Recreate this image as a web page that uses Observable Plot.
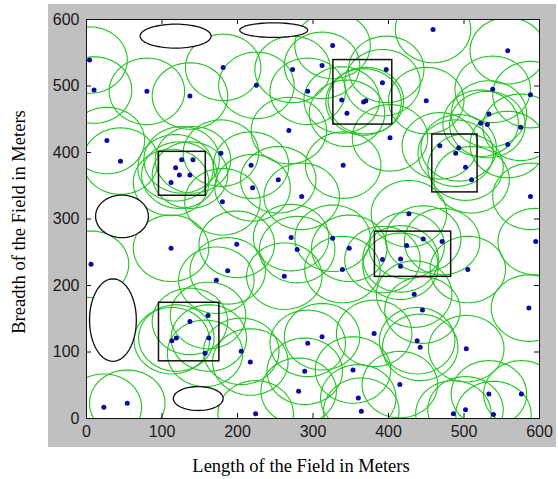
<!DOCTYPE html>
<html><head><meta charset="utf-8">
<script src="https://cdn.jsdelivr.net/npm/d3@7"></script>
<script src="https://cdn.jsdelivr.net/npm/@observablehq/plot@0.6"></script>
<style>body{margin:0;background:#fff;} #chart{width:558px;height:479px;}</style>
</head><body><div id="chart"></div>
<script>
// Sensor node positions (meters)
const nodeX = [4, 10, 80, 137, 181, 27, 45, 178, 126, 141, 118, 123, 137, 112, 180,
  326, 273, 312, 225, 293, 392, 338, 367, 370, 345, 268, 340, 218, 254, 220, 285, 397,
  459, 558, 450, 402, 538, 588, 533, 522, 531, 575, 558, 468, 493, 489, 502, 510, 588, 427,
  112, 6, 187, 172, 161, 137, 119, 113, 162, 157, 23, 54, 205, 217, 224, 199,
  271, 279, 326, 348, 339, 262, 392, 312, 293, 381, 289, 353, 281, 360, 364,
  446, 471, 424, 416, 416, 505, 595, 434, 445, 586, 438, 442, 503, 415, 533, 576, 502, 486, 539];
const nodeY = [539, 494, 492, 485, 528, 418, 387, 399, 389, 389, 377, 366, 366, 355, 326,
  561, 525, 531, 501, 492, 505, 479, 476, 478, 459, 433, 381, 381, 359, 347, 334, 525,
  585, 553, 478, 422, 495, 487, 458, 444, 442, 438, 412, 410, 407, 399, 378, 359, 334, 308,
  256, 232, 222, 208, 155, 146, 121, 117, 121, 98, 17, 23, 101, 85, 7, 262,
  272, 254, 271, 256, 224, 214, 239, 123, 113, 128, 71, 73, 41, 31, 11,
  270, 266, 260, 240, 229, 224, 266, 187, 163, 166, 117, 107, 105, 51, 37, 37, 13, 7, 6];
const sensingRadius = 50;

// Cluster regions (rectangles)
const clusterX1 = [96, 327, 458, 382, 96];
const clusterX2 = [158, 405, 518, 483, 176];
const clusterY1 = [335, 442, 340, 213, 86];
const clusterY2 = [401, 539, 427, 281, 174];

// Obstacles (ellipses)
const obstacleCX = [118, 248, 47, 35, 148];
const obstacleCY = [575, 584, 304, 148, 30];
const obstacleRX = [47, 45, 35, 31, 33];
const obstacleRY = [18, 11, 32, 62, 18];

const xTicks = [0, 100, 200, 300, 400, 500, 600];
const yTicks = [0, 100, 200, 300, 400, 500, 600];
const xLabel = "Length of the Field in Meters";
const yLabel = "Breadth of the Field in Meters";

const nodes = nodeX.map((x, i) => ({x, y: nodeY[i]}));
const ring = d3.range(0, 73).map(k => 2 * Math.PI * k / 72);
const circlePts = nodes.flatMap((n, i) => ring.map(t => ({id: i, x: n.x + sensingRadius * Math.cos(t), y: n.y + sensingRadius * Math.sin(t)})));
const ellipsePts = obstacleCX.flatMap((cx, i) => ring.map(t => ({id: i, x: cx + obstacleRX[i] * Math.cos(t), y: obstacleCY[i] + obstacleRY[i] * Math.sin(t)})));
const clusters = clusterX1.map((x1, i) => ({x1, x2: clusterX2[i], y1: clusterY1[i], y2: clusterY2[i]}));

const svg = Plot.plot({
  width: 558, height: 479,
  marginLeft: 86, marginRight: 19, marginTop: 19, marginBottom: 61,
  x: {domain: [0, 600]},
  y: {domain: [0, 600]},
  style: {background: "transparent", fontFamily: "'Liberation Sans', Arial, sans-serif", fontSize: "16px", color: "#1a1a1a"},
  marks: [
    Plot.frame({fill: "white", stroke: "none"}),
    Plot.line(circlePts, {x: "x", y: "y", z: "id", stroke: "#1fc41f", strokeWidth: 1.1, clip: true}),
    Plot.line(ellipsePts, {x: "x", y: "y", z: "id", fill: "white", stroke: "#111", strokeWidth: 1.3, clip: true}),
    Plot.rect(clusters, {x1: "x1", x2: "x2", y1: "y1", y2: "y2", fill: "none", stroke: "#111", strokeWidth: 1.5}),
    Plot.dot(nodes, {x: "x", y: "y", r: 2.5, fill: "#0b0b9c", stroke: "none"}),
    Plot.tickX(xTicks, {x: d => d, insetTop: 394, stroke: "#111"}),
    Plot.tickX(xTicks, {x: d => d, insetBottom: 394, stroke: "#111"}),
    Plot.tickY(yTicks, {y: d => d, insetRight: 448, stroke: "#111"}),
    Plot.tickY(yTicks, {y: d => d, insetLeft: 448, stroke: "#111"}),
    Plot.axisX({ticks: xTicks, tickSize: 0, tickPadding: 7, label: null, fontSize: 16}),
    Plot.axisY({ticks: yTicks, tickSize: 0, tickPadding: 7, label: null, fontSize: 16}),
    Plot.frame({stroke: "#111", strokeWidth: 1})
  ]
});

const s = d3.select(svg);
s.insert("rect", ":first-child").attr("x", 48).attr("y", 4).attr("width", 508).attr("height", 443).attr("fill", "#c0c0c0");
s.append("text").attr("x", 301).attr("y", 472).attr("text-anchor", "middle")
  .attr("font-family", "'Liberation Serif', 'Times New Roman', serif").attr("font-size", 18.5).attr("fill", "#000").text(xLabel);
s.append("text").attr("transform", "translate(25,222) rotate(-90)").attr("text-anchor", "middle")
  .attr("font-family", "'Liberation Serif', 'Times New Roman', serif").attr("font-size", 18.5).attr("fill", "#000").text(yLabel);
document.getElementById("chart").appendChild(svg);
</script>
</body></html>
